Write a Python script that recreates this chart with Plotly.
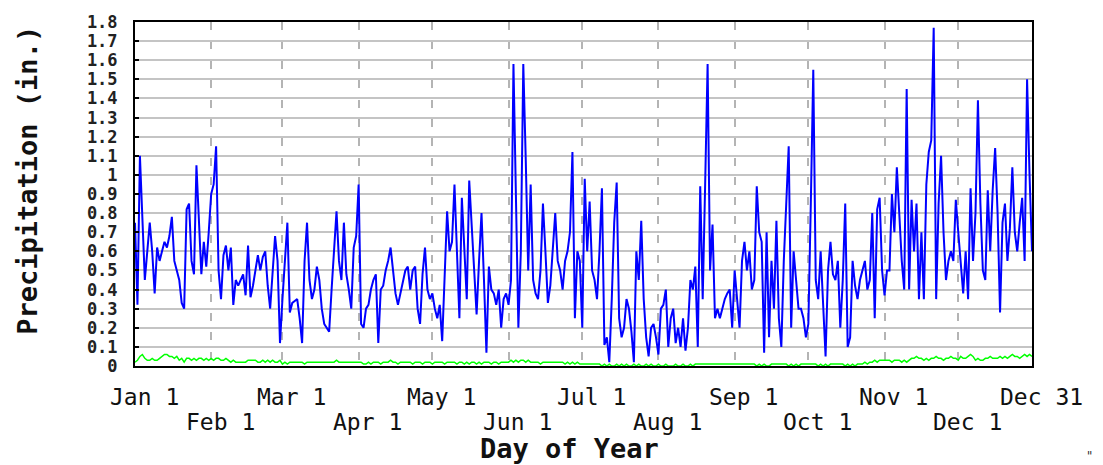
import plotly.graph_objects as go

# ---- data (day of year 1..366, leap year) ----
precip_a = [0.75, 0.32, 1.1, 0.75, 0.45, 0.6, 0.75, 0.6, 0.38, 0.62,
            0.55, 0.6, 0.65, 0.62, 0.68, 0.78, 0.55, 0.5, 0.45, 0.33,
            0.3, 0.82, 0.85, 0.55, 0.48, 1.05, 0.75, 0.48, 0.65, 0.52,
            0.7, 0.9, 0.95, 1.15, 0.5, 0.35, 0.58, 0.63, 0.5, 0.62,
            0.32, 0.45, 0.42, 0.45, 0.48, 0.37, 0.63, 0.36, 0.42, 0.5,
            0.58, 0.5, 0.57, 0.6, 0.42, 0.3, 0.5, 0.68, 0.55, 0.12,
            0.35]
precip_b = [0.53, 0.75, 0.28, 0.33, 0.34, 0.35, 0.25, 0.12, 0.55, 0.75,
            0.45, 0.35, 0.4, 0.52, 0.45, 0.3, 0.22, 0.2, 0.18, 0.4,
            0.62, 0.81, 0.55, 0.45, 0.75, 0.48, 0.4, 0.3, 0.62, 0.68,
            0.95, 0.22, 0.2, 0.3, 0.32, 0.4, 0.45, 0.48, 0.12, 0.4,
            0.42, 0.5, 0.55, 0.62, 0.5, 0.38, 0.32, 0.38, 0.45, 0.5,
            0.52, 0.4, 0.5, 0.52, 0.3, 0.22, 0.48, 0.62, 0.4]
precip_c = [0.35, 0.38, 0.3, 0.25, 0.32, 0.13, 0.52, 0.81, 0.6, 0.65,
            0.95, 0.55, 0.25, 0.88, 0.6, 0.35, 0.97, 0.75, 0.52, 0.27,
            0.55, 0.8, 0.45, 0.07, 0.52, 0.4, 0.38, 0.32, 0.4, 0.2,
            0.35, 0.38, 0.32, 0.45, 1.58, 0.9, 0.2, 0.6, 1.58, 1.08,
            0.5, 0.95, 0.45, 0.38, 0.35, 0.5, 0.85, 0.6, 0.33, 0.42,
            0.6, 0.8, 0.55, 0.5, 0.4, 0.55, 0.6, 0.7, 1.12, 0.25,
            0.6, 0.55, 0.2, 0.98, 0.6]
precip_d = [0.86, 0.5, 0.45, 0.35, 0.6, 0.93, 0.11, 0.15, 0.02, 0.35,
            0.75, 0.96, 0.25, 0.15, 0.2, 0.35, 0.3, 0.18, 0.02, 0.6,
            0.45, 0.76, 0.35, 0.15, 0.05, 0.2, 0.22, 0.15, 0.06, 0.3,
            0.32, 0.4, 0.1, 0.25, 0.3, 0.12, 0.2, 0.1, 0.25, 0.08,
            0.2, 0.45, 0.4, 0.52, 0.1, 0.94, 0.35, 0.95, 1.58, 0.5,
            0.74, 0.25, 0.3, 0.25, 0.3, 0.35, 0.38, 0.4, 0.2]
precip_e = [0.5, 0.35, 0.2, 0.55, 0.65, 0.5, 0.6, 0.4, 0.45, 0.94,
            0.7, 0.65, 0.07, 0.7, 0.15, 0.55, 0.3, 0.76, 0.25, 0.1,
            0.55, 0.85, 1.15, 0.2, 0.6, 0.45, 0.3, 0.3, 0.25, 0.15,
            0.22, 0.85, 1.55, 0.45, 0.35, 0.6, 0.3, 0.05, 0.5, 0.65,
            0.48, 0.45, 0.55, 0.2, 0.45, 0.85, 0.1, 0.15, 0.55, 0.42,
            0.35, 0.45, 0.5, 0.55, 0.4, 0.45, 0.8, 0.25, 0.82]
precip_f = [0.88, 0.5, 0.37, 0.5, 0.5, 0.9, 0.7, 1.04, 0.8, 0.55,
            0.4, 1.45, 0.4, 0.87, 0.6, 0.85, 0.35, 0.7, 0.35, 0.95,
            1.12, 1.18, 1.77, 0.35, 0.85, 1.1, 0.7, 0.45, 0.55, 0.6,
            0.55, 0.87, 0.7, 0.55, 0.38, 0.6, 0.35, 0.93, 0.55, 0.8,
            1.39, 0.85, 0.5, 0.45, 0.92, 0.6, 0.92, 1.14, 0.8, 0.28,
            0.75, 0.85, 0.55, 0.72, 1.04, 0.7, 0.6, 0.75, 0.88, 0.55,
            1.5, 1.0, 0.6]

normal_jan = [0.02, 0.03, 0.05, 0.06, 0.04, 0.03, 0.03, 0.04, 0.03, 0.03, 0.04, 0.05, 0.06, 0.06, 0.05, 0.05,
              0.04, 0.05, 0.03, 0.04, 0.02, 0.04, 0.04, 0.03, 0.04, 0.03, 0.04, 0.04, 0.03, 0.04, 0.03]
normal_feb = [0.04, 0.03, 0.04, 0.04, 0.03, 0.03, 0.04, 0.03, 0.02, 0.03, 0.02, 0.02, 0.02, 0.02, 0.02,
              0.03, 0.03, 0.03, 0.03, 0.02, 0.02, 0.03, 0.02, 0.03, 0.02, 0.03, 0.02, 0.02, 0.03]
normal_mar = [0.01, 0.02, 0.01, 0.02, 0.02, 0.02, 0.02, 0.02, 0.02, 0.01, 0.02, 0.02, 0.02, 0.02, 0.02, 0.02,
              0.02, 0.02, 0.02, 0.02, 0.02, 0.02, 0.03, 0.02, 0.02, 0.02, 0.02, 0.02, 0.02, 0.02, 0.02]
normal_apr = [0.02, 0.02, 0.01, 0.01, 0.02, 0.01, 0.02, 0.02, 0.02, 0.01, 0.02, 0.02, 0.02, 0.03, 0.02,
              0.02, 0.01, 0.02, 0.02, 0.02, 0.02, 0.02, 0.01, 0.02, 0.02, 0.02, 0.01, 0.02, 0.02, 0.02]
normal_may = [0.01, 0.02, 0.02, 0.02, 0.02, 0.01, 0.02, 0.02, 0.02, 0.02, 0.01, 0.02, 0.02, 0.01, 0.02, 0.01,
              0.02, 0.02, 0.01, 0.02, 0.01, 0.02, 0.02, 0.02, 0.01, 0.02, 0.02, 0.01, 0.02, 0.02, 0.02]
normal_jun = [0.02, 0.03, 0.02, 0.03, 0.02, 0.03, 0.03, 0.02, 0.03, 0.02, 0.02, 0.02, 0.02, 0.01, 0.02,
              0.02, 0.02, 0.02, 0.02, 0.02, 0.02, 0.02, 0.02, 0.01, 0.02, 0.01, 0.02, 0.01, 0.02, 0.01]
normal_jul = [0.01, 0.01, 0.01, 0.01, 0.01, 0.01, 0.01, 0.01, 0.0, 0.01, 0.0, 0.01, 0.0, 0.0, 0.01, 0.0,
              0.01, 0.0, 0.01, 0.0, 0.0, 0.01, 0.0, 0.01, 0.0, 0.0, 0.01, 0.0, 0.01, 0.0, 0.0]
normal_aug = [0.01, 0.0, 0.0, 0.01, 0.0, 0.0, 0.0, 0.01, 0.0, 0.0, 0.01, 0.0, 0.0, 0.01, 0.0, 0.01,
              0.01, 0.01, 0.01, 0.01, 0.01, 0.01, 0.01, 0.01, 0.01, 0.01, 0.01, 0.01, 0.01, 0.01, 0.01]
normal_sep = [0.01, 0.01, 0.01, 0.01, 0.01, 0.01, 0.01, 0.01, 0.01, 0.0, 0.01, 0.0, 0.01, 0.0, 0.0,
              0.01, 0.01, 0.01, 0.01, 0.01, 0.01, 0.01, 0.0, 0.01, 0.0, 0.01, 0.0, 0.01, 0.01, 0.01]
normal_oct = [0.01, 0.01, 0.01, 0.01, 0.0, 0.01, 0.0, 0.01, 0.0, 0.01, 0.01, 0.01, 0.01, 0.01, 0.01, 0.0,
              0.01, 0.0, 0.01, 0.0, 0.01, 0.01, 0.01, 0.02, 0.01, 0.02, 0.02, 0.03, 0.02, 0.03, 0.03]
normal_nov = [0.03, 0.03, 0.03, 0.02, 0.03, 0.03, 0.03, 0.02, 0.03, 0.02, 0.03, 0.04, 0.04, 0.05, 0.04,
              0.04, 0.03, 0.04, 0.03, 0.04, 0.04, 0.05, 0.04, 0.04, 0.03, 0.04, 0.04, 0.05, 0.04, 0.04]
normal_dec = [0.03, 0.05, 0.04, 0.04, 0.05, 0.06, 0.05, 0.03, 0.04, 0.03, 0.03, 0.04, 0.04, 0.05, 0.04, 0.04,
              0.04, 0.05, 0.04, 0.05, 0.04, 0.05, 0.06, 0.05, 0.05, 0.04, 0.05, 0.06, 0.05, 0.06, 0.05]

month_start_days = [32, 61, 92, 122, 153, 183, 214, 245, 275, 306, 336]
top_label_days = [1, 61, 122, 183, 245, 306, 366]
top_labels = ["Jan 1", "Mar 1", "May 1", "Jul 1", "Sep 1", "Nov 1", "Dec 31"]
bottom_label_days = [32, 92, 153, 214, 275, 336]
bottom_labels = ["Feb 1", "Apr 1", "Jun 1", "Aug 1", "Oct 1", "Dec 1"]
y_tick_vals = [0, 0.1, 0.2, 0.3, 0.4, 0.5, 0.6, 0.7, 0.8, 0.9, 1.0,
               1.1, 1.2, 1.3, 1.4, 1.5, 1.6, 1.7, 1.8]
y_tick_text = ["0", "0.1", "0.2", "0.3", "0.4", "0.5", "0.6", "0.7", "0.8", "0.9", "1",
               "1.1", "1.2", "1.3", "1.4", "1.5", "1.6", "1.7", "1.8"]

precip = precip_a + precip_b + precip_c + precip_d + precip_e + precip_f
normal = (normal_jan + normal_feb + normal_mar + normal_apr + normal_may + normal_jun +
          normal_jul + normal_aug + normal_sep + normal_oct + normal_nov + normal_dec)

MONO = "DejaVu Sans Mono"

fig = go.Figure()
fig.add_trace(go.Scatter(x=list(range(1, len(normal) + 1)), y=normal, mode="lines",
                         line=dict(color="#00ff00", width=1.5), hoverinfo="skip"))
fig.add_trace(go.Scatter(x=list(range(1, len(precip) + 1)), y=precip, mode="lines",
                         line=dict(color="#0000ff", width=2)))

annotations = []
for d, t in zip(top_label_days, top_labels):
    annotations.append(dict(x=d, y=-0.089, xref="x", yref="paper", text=t, showarrow=False,
                            xanchor="center", yanchor="middle", xshift=9,
                            font=dict(family=MONO, size=23, color="#111111")))
for d, t in zip(bottom_label_days, bottom_labels):
    annotations.append(dict(x=d, y=-0.163, xref="x", yref="paper", text=t, showarrow=False,
                            xanchor="center", yanchor="middle", xshift=9,
                            font=dict(family=MONO, size=23, color="#111111")))
annotations.append(dict(x=0.484, y=-0.241, xref="paper", yref="paper", text="<b>Day of Year</b>",
                        showarrow=False, xanchor="center", yanchor="middle",
                        font=dict(family=MONO, size=27, color="#111111")))
annotations.append(dict(x=-0.1193, y=0.5415, xref="paper", yref="paper",
                        text="<b>Precipitation (in.)</b>", textangle=-90,
                        showarrow=False, xanchor="center", yanchor="middle",
                        font=dict(family=MONO, size=27, color="#111111")))
annotations.append(dict(x=1.0636, y=-0.262, xref="paper", yref="paper", text='"',
                        showarrow=False, xanchor="center", yanchor="middle",
                        font=dict(family=MONO, size=12, color="#333333")))

fig.update_layout(
    width=1103, height=465,
    margin=dict(l=135, r=71, t=17, b=99),
    paper_bgcolor="white", plot_bgcolor="white",
    showlegend=False,
    annotations=annotations,
    xaxis=dict(range=[1, 366], tickvals=month_start_days, showticklabels=False,
               showgrid=True, gridcolor="#b4b4b4", gridwidth=2, griddash="8px,11.4px",
               showline=True, linecolor="black", linewidth=2, mirror=True,
               ticks="", zeroline=False, fixedrange=True),
    yaxis=dict(range=[0, 1.8], tickvals=y_tick_vals, ticktext=y_tick_text,
               showgrid=True, gridcolor="#c4c4c4", gridwidth=2,
               showline=True, linecolor="black", linewidth=2, mirror=True,
               ticks="inside", ticklen=4, tickwidth=2, tickcolor="black",
               ticklabelstandoff=12,
               tickfont=dict(family=MONO, size=17, color="#222222", weight="bold"),
               zeroline=False, fixedrange=True),
)

fig.write_html("out.html", config={"displayModeBar": False},
               post_script="document.body.style.margin='0';document.body.style.overflow='hidden';")
